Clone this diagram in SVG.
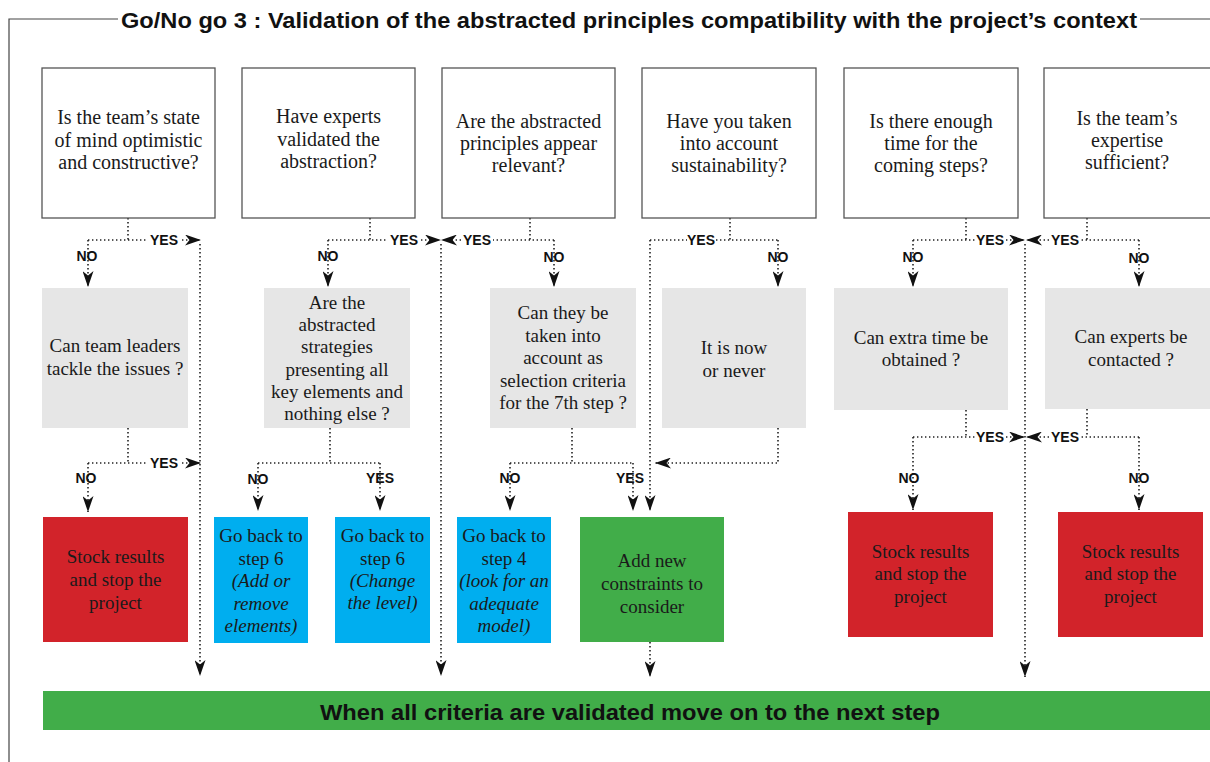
<svg xmlns="http://www.w3.org/2000/svg" width="1210" height="762" viewBox="0 0 1210 762">
<style>
.q{fill:#fff;stroke:#555;stroke-width:1.3}
.g{fill:#e6e6e6}
.r{fill:#d2232a}
.b{fill:#00aeef}
.gr{fill:#41ad49}
.t{font-family:"Liberation Serif",serif;font-size:20px;fill:#1a1a1a;text-anchor:middle}
.s{font-family:"Liberation Serif",serif;font-size:19px;fill:#1a1a1a;text-anchor:middle}
.i{font-style:italic}
.l{font-family:"Liberation Sans",Arial,sans-serif;font-weight:bold;font-size:14px;fill:#111;text-anchor:middle}
.d{fill:none;stroke:#222;stroke-width:1.6;stroke-dasharray:1.4 2.6}
.a{marker-end:url(#ah)}
</style>
<defs>
<marker id="ah" markerUnits="userSpaceOnUse" markerWidth="16" markerHeight="11" refX="16" refY="5.5" orient="auto" viewBox="0 0 16 11">
<path d="M0,0 L16,5.5 L0,11 L4.5,5.5 Z" fill="#111"/>
</marker>
</defs>
<rect width="1210" height="762" fill="#fff"/>
<g id="frame">
<path d="M9,762 V19 H118 M1140,19 H1210" fill="none" stroke="#444" stroke-width="1.2"/>
<text x="629" y="28" font-family="Liberation Sans,Arial,sans-serif" font-weight="bold" font-size="22" text-anchor="middle" fill="#111" textLength="1016" lengthAdjust="spacingAndGlyphs">Go/No go 3 : Validation of the abstracted principles compatibility with the project’s context</text>
</g>
<g id="connectors">
<path class="d" d="M128,218 V240 M88,240 H146 M128,428 V463 M88,463 H146"/>
<path class="d a" d="M88,240 V287"/>
<path class="d a" d="M182,240 H201"/>
<path class="d a" d="M200,244 V676"/>
<path class="d a" d="M88,463 V512"/>
<path class="d a" d="M182,463 H201"/>
<path class="d" d="M370,218 V240 M328,240 H387 M330,428 V463 M258,463 H380"/>
<path class="d a" d="M421,240 H441"/>
<path class="d a" d="M328,240 V287"/>
<path class="d a" d="M258,463 V511"/>
<path class="d a" d="M380,463 V511"/>
<path class="d" d="M530,218 V240 M554,240 H493 M572,428 V463 M510,463 H633"/>
<path class="d a" d="M461,240 H441"/>
<path class="d a" d="M554,240 V287"/>
<path class="d a" d="M441,244 V676"/>
<path class="d a" d="M510,463 V511"/>
<path class="d a" d="M633,463 V511"/>
<path class="d" d="M730,218 V240 M650,240 H687 M716,240 H778"/>
<path class="d a" d="M778,240 V287"/>
<path class="d a" d="M650,240 V511"/>
<path class="d a" d="M778,428 V463 H655"/>
<path class="d a" d="M650,642 V677"/>
<path class="d" d="M966,218 V240 M913,240 H975 M966,410 V437 M913,437 H975"/>
<path class="d a" d="M1006,240 H1025"/>
<path class="d a" d="M913,240 V287"/>
<path class="d a" d="M1006,437 H1025"/>
<path class="d a" d="M913,437 V510"/>
<path class="d" d="M1087,218 V240 M1139,240 H1081 M1087,409 V437 M1139,437 H1081"/>
<path class="d a" d="M1049,240 H1026"/>
<path class="d a" d="M1139,240 V287"/>
<path class="d a" d="M1049,437 H1026"/>
<path class="d a" d="M1139,437 V510"/>
<path class="d a" d="M1025,244 V677"/>
<text class="l" x="164" y="245">YES</text>
<text class="l" x="87" y="261">NO</text>
<text class="l" x="164" y="468">YES</text>
<text class="l" x="86" y="483">NO</text>
<text class="l" x="404" y="245">YES</text>
<text class="l" x="328" y="261">NO</text>
<text class="l" x="258" y="484">NO</text>
<text class="l" x="380" y="483">YES</text>
<text class="l" x="477" y="245">YES</text>
<text class="l" x="554" y="262">NO</text>
<text class="l" x="510" y="483">NO</text>
<text class="l" x="630" y="483">YES</text>
<text class="l" x="701" y="245">YES</text>
<text class="l" x="778" y="262">NO</text>
<text class="l" x="990" y="245">YES</text>
<text class="l" x="913" y="262">NO</text>
<text class="l" x="990" y="442">YES</text>
<text class="l" x="909" y="483">NO</text>
<text class="l" x="1065" y="245">YES</text>
<text class="l" x="1139" y="263">NO</text>
<text class="l" x="1065" y="442">YES</text>
<text class="l" x="1139" y="483">NO</text>
</g>
<g id="q1"><rect class="q" x="42" y="68" width="173" height="150"/>
<text class="t"><tspan x="128.5" y="124">Is the team’s state</tspan><tspan x="128.5" y="147">of mind optimistic</tspan><tspan x="128.5" y="169">and constructive?</tspan></text></g>
<g id="q2"><rect class="q" x="242" y="68" width="173" height="150"/>
<text class="t"><tspan x="328.5" y="123">Have experts</tspan><tspan x="328.5" y="146">validated the</tspan><tspan x="328.5" y="168">abstraction?</tspan></text></g>
<g id="q3"><rect class="q" x="442" y="68" width="173" height="150"/>
<text class="t"><tspan x="528.5" y="128">Are the abstracted</tspan><tspan x="528.5" y="150">principles appear</tspan><tspan x="528.5" y="172">relevant?</tspan></text></g>
<g id="q4"><rect class="q" x="642" y="68" width="174" height="150"/>
<text class="t"><tspan x="729" y="128">Have you taken</tspan><tspan x="729" y="150">into account</tspan><tspan x="729" y="172">sustainability?</tspan></text></g>
<g id="q5"><rect class="q" x="844" y="68" width="174" height="150"/>
<text class="t"><tspan x="931" y="128">Is there enough</tspan><tspan x="931" y="150">time for the</tspan><tspan x="931" y="172">coming steps?</tspan></text></g>
<g id="q6"><rect class="q" x="1044" y="68" width="174" height="150"/>
<text class="t"><tspan x="1127" y="125">Is the team’s</tspan><tspan x="1127" y="147">expertise</tspan><tspan x="1127" y="169">sufficient?</tspan></text></g>
<g id="g1"><rect class="g" x="42" y="288" width="146" height="140"/>
<text class="s"><tspan x="115" y="352">Can team leaders</tspan><tspan x="115" y="375">tackle the issues ?</tspan></text></g>
<g id="g2"><rect class="g" x="264" y="288" width="146" height="140"/>
<text class="s"><tspan x="337" y="309">Are the</tspan><tspan x="337" y="331">abstracted</tspan><tspan x="337" y="353">strategies</tspan><tspan x="337" y="376">presenting all</tspan><tspan x="337" y="398">key elements and</tspan><tspan x="337" y="420">nothing else ?</tspan></text></g>
<g id="g3"><rect class="g" x="490" y="288" width="146" height="140"/>
<text class="s"><tspan x="563" y="319">Can they be</tspan><tspan x="563" y="342">taken into</tspan><tspan x="563" y="364">account as</tspan><tspan x="563" y="387">selection criteria</tspan><tspan x="563" y="409">for the 7th step ?</tspan></text></g>
<g id="g4"><rect class="g" x="662" y="288" width="144" height="140"/>
<text class="s"><tspan x="734" y="354">It is now</tspan><tspan x="734" y="377">or never</tspan></text></g>
<g id="g5"><rect class="g" x="834" y="288" width="174" height="122"/>
<text class="s"><tspan x="921" y="344">Can extra time be</tspan><tspan x="921" y="366">obtained ?</tspan></text></g>
<g id="g6"><rect class="g" x="1045" y="288" width="170" height="121"/>
<text class="s"><tspan x="1131" y="343">Can experts be</tspan><tspan x="1131" y="366">contacted ?</tspan></text></g>
<g id="r1"><rect class="r" x="43" y="517" width="145" height="125"/>
<text class="s"><tspan x="115.5" y="563">Stock results</tspan><tspan x="115.5" y="586">and stop the</tspan><tspan x="115.5" y="609">project</tspan></text></g>
<g id="b1"><rect class="b" x="214" y="517" width="94" height="126"/>
<text class="s"><tspan x="261" y="542">Go back to</tspan><tspan x="261" y="565">step 6</tspan><tspan class="i" x="261" y="587">(Add or</tspan><tspan class="i" x="261" y="610">remove</tspan><tspan class="i" x="261" y="632">elements)</tspan></text></g>
<g id="b2"><rect class="b" x="335" y="517" width="95" height="126"/>
<text class="s"><tspan x="382.5" y="542">Go back to</tspan><tspan x="382.5" y="565">step 6</tspan><tspan class="i" x="382.5" y="587">(Change</tspan><tspan class="i" x="382.5" y="609">the level)</tspan></text></g>
<g id="b3"><rect class="b" x="457" y="517" width="94" height="126"/>
<text class="s"><tspan x="504" y="542">Go back to</tspan><tspan x="504" y="565">step 4</tspan><tspan class="i" x="504" y="587">(look for an</tspan><tspan class="i" x="504" y="610">adequate</tspan><tspan class="i" x="504" y="632">model)</tspan></text></g>
<g id="add"><rect class="gr" x="580" y="517" width="144" height="125"/>
<text class="s"><tspan x="652" y="567">Add new</tspan><tspan x="652" y="590">constraints to</tspan><tspan x="652" y="613">consider</tspan></text></g>
<g id="r2"><rect class="r" x="848" y="512" width="145" height="125"/>
<text class="s"><tspan x="920.5" y="558">Stock results</tspan><tspan x="920.5" y="580">and stop the</tspan><tspan x="920.5" y="603">project</tspan></text></g>
<g id="r3"><rect class="r" x="1058" y="512" width="145" height="125"/>
<text class="s"><tspan x="1130.5" y="558">Stock results</tspan><tspan x="1130.5" y="580">and stop the</tspan><tspan x="1130.5" y="603">project</tspan></text></g>
<g id="next"><rect class="gr" x="43" y="691" width="1170" height="39"/>
<text x="630" y="720" font-family="Liberation Sans,Arial,sans-serif" font-weight="bold" font-size="22" text-anchor="middle" fill="#111" textLength="620" lengthAdjust="spacingAndGlyphs">When all criteria are validated move on to the next step</text></g>
</svg>
